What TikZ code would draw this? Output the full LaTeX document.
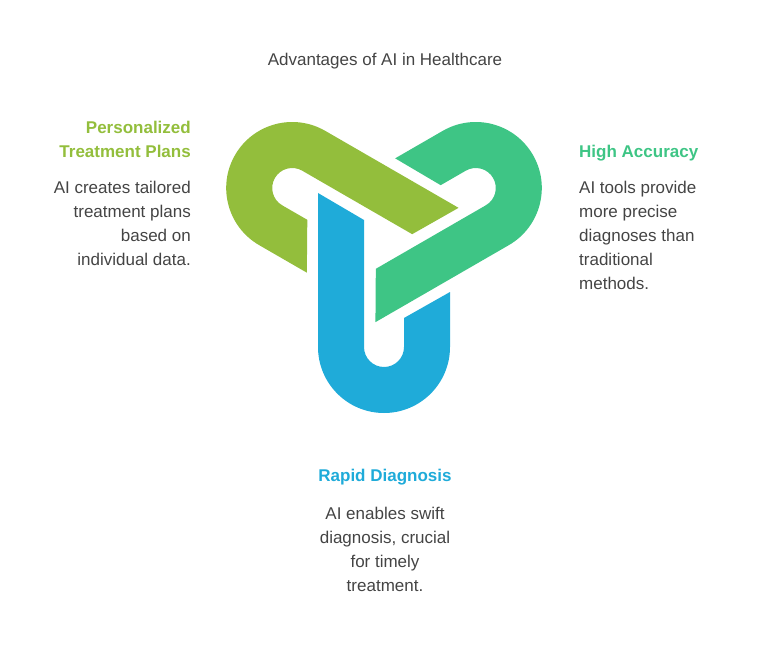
\documentclass[tikz,border=0pt]{standalone}
\usepackage{fontspec}
\setmainfont{Liberation Sans}
\definecolor{cy}{HTML}{93BE3C}
\definecolor{cg}{HTML}{3EC585}
\definecolor{cb}{HTML}{1FABD9}
\definecolor{tx}{HTML}{444444}
\begin{document}
\begin{tikzpicture}[x=1pt,y=1pt,
  body/.style={inner sep=0pt,text=tx,font=\fontsize{17}{24}\selectfont},
  head/.style={inner sep=0pt,font=\fontsize{17}{24}\selectfont\bfseries}]
\useasboundingbox (0,0) rectangle (758,-650);
\def\link{(-66,48) -- (-20,21) -- (-20,-106) arc[start angle=180,end angle=360,radius=20] -- (20,-77) -- (66,-51) -- (66,-106) arc[start angle=0,end angle=-180,radius=66] -- cycle}
\begin{scope}[shift={(384,-241)}]
  \fill[cb] \link;
  \fill[cg,rotate=120] \link;
  \fill[cy,rotate=240] \link;
\end{scope}
\node[body] (title) at (385,-61) {Advantages of AI in Healthcare};
\node[head,text=cy,align=right,anchor=north east] (h1) at (191,-121) {Personalized\\Treatment Plans};
\node[body,align=right,anchor=north east] (b1) at (191,-181) {AI creates tailored\\treatment plans\\based on\\individual data.};
\node[head,text=cg,align=left,anchor=north west] (h2) at (579,-145) {High Accuracy};
\node[body,align=left,anchor=north west] (b2) at (579,-181) {AI tools provide\\more precise\\diagnoses than\\traditional\\methods.};
\node[head,text=cb,align=center,anchor=north] (h3) at (385,-469) {Rapid Diagnosis};
\node[body,align=center,anchor=north] (b3) at (385,-507) {AI enables swift\\diagnosis, crucial\\for timely\\treatment.};
\end{tikzpicture}
\end{document}
